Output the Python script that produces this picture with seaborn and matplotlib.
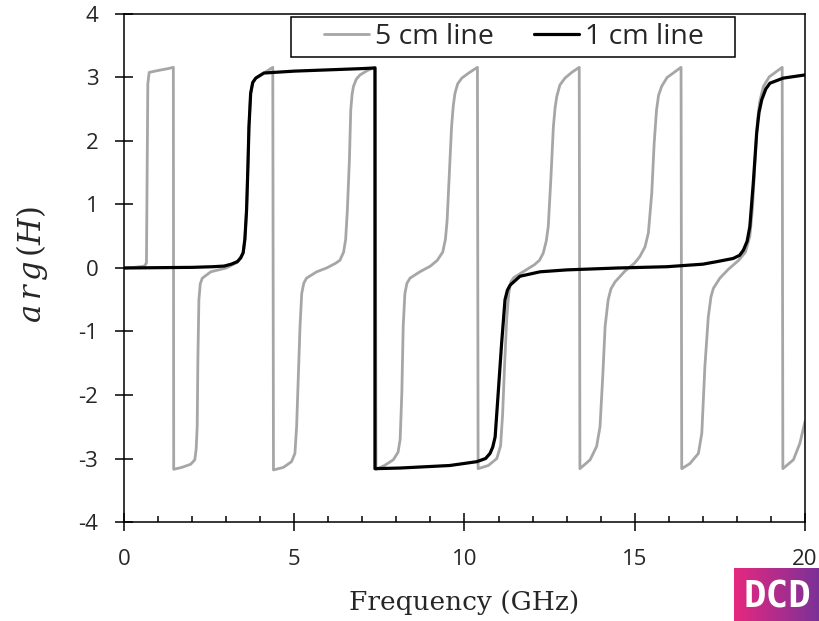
import numpy as np
import pandas as pd
import matplotlib
matplotlib.use("Agg")
import matplotlib.pyplot as plt
import seaborn as sns
from matplotlib.ticker import MultipleLocator
from matplotlib.patches import Rectangle

# Phase of the transfer function, 5 cm line (GHz, rad)
freq_5cm = [
    0.00, 0.30, 0.60, 0.66, 0.68, 0.70, 0.74, 1.00, 1.30, 1.45,
    1.46, 1.70, 1.96, 2.08, 2.12, 2.15, 2.17, 2.20, 2.24, 2.30, 2.55, 3.00,
    3.33, 3.50, 3.55, 3.60, 3.64, 3.67, 3.72, 3.78, 3.87, 4.11, 4.37,
    4.39, 4.68, 4.92, 5.02, 5.07, 5.12, 5.17, 5.22, 5.28, 5.36, 5.66, 5.95,
    6.20, 6.34, 6.45, 6.51, 6.56, 6.62, 6.66, 6.70, 6.74, 6.82, 6.93, 7.15, 7.38,
    7.40, 7.65, 7.91, 8.05, 8.11, 8.16, 8.20, 8.25, 8.31, 8.40, 8.69, 9.00,
    9.20, 9.36, 9.44, 9.49, 9.55, 9.62, 9.67, 9.72, 9.80, 9.92, 10.15, 10.38,
    10.40, 10.70, 10.95, 11.06, 11.12, 11.18, 11.24, 11.30, 11.36, 11.45, 11.75, 12.05,
    12.20, 12.31, 12.40, 12.46, 12.54, 12.61, 12.66, 12.71, 12.80, 12.95, 13.15, 13.37,
    13.39, 13.69, 13.88, 13.98, 14.06, 14.13, 14.22, 14.30, 14.42, 14.71, 15.00,
    15.15, 15.30, 15.40, 15.50, 15.57, 15.64, 15.70, 15.79, 15.95, 16.13, 16.36,
    16.38, 16.62, 16.87, 16.97, 17.06, 17.16, 17.24, 17.31, 17.50, 17.75, 18.05,
    18.25, 18.38, 18.46, 18.53, 18.60, 18.67, 18.78, 18.95, 19.10, 19.33,
    19.35, 19.66, 19.85, 20.00,
]
phase_5cm = [
    0.00, 0.01, 0.03, 0.08, 1.50, 2.90, 3.08, 3.11, 3.14, 3.16,
    -3.17, -3.14, -3.09, -3.02, -2.85, -2.50, -1.45, -0.50, -0.25, -0.16, -0.06, 0.00,
    0.09, 0.24, 0.45, 0.91, 1.60, 2.22, 2.75, 2.92, 2.99, 3.07, 3.16,
    -3.18, -3.14, -3.05, -2.92, -2.50, -1.71, -0.92, -0.40, -0.24, -0.16, -0.06, 0.00,
    0.07, 0.12, 0.25, 0.45, 0.91, 1.70, 2.49, 2.74, 2.86, 2.97, 3.04, 3.11, 3.16,
    -3.17, -3.11, -3.02, -2.90, -2.70, -1.97, -0.92, -0.40, -0.24, -0.16, -0.06, 0.03,
    0.12, 0.25, 0.45, 0.75, 1.44, 2.22, 2.55, 2.75, 2.90, 2.99, 3.08, 3.16,
    -3.16, -3.11, -3.00, -2.80, -2.30, -1.50, -0.80, -0.40, -0.22, -0.15, -0.05, 0.05,
    0.12, 0.23, 0.42, 0.65, 1.44, 2.22, 2.52, 2.70, 2.88, 2.99, 3.08, 3.16,
    -3.16, -3.02, -2.81, -2.50, -1.71, -0.92, -0.50, -0.33, -0.22, -0.05, 0.08,
    0.18, 0.33, 0.55, 1.18, 1.96, 2.49, 2.72, 2.86, 3.00, 3.07, 3.16,
    -3.16, -3.08, -2.92, -2.60, -1.55, -0.77, -0.45, -0.32, -0.16, -0.02, 0.12,
    0.25, 0.50, 0.95, 1.65, 2.30, 2.62, 2.86, 3.01, 3.07, 3.16,
    -3.16, -3.02, -2.76, -2.42,
]

# Phase of the transfer function, 1 cm line (GHz, rad)
freq_1cm = [
    0.00, 1.00, 2.00, 2.60, 2.94, 3.15, 3.33, 3.43, 3.50, 3.55, 3.60, 3.64,
    3.67, 3.72, 3.78, 3.87, 4.11, 5.00, 6.00, 7.00, 7.37,
    7.371, 8.11, 9.57, 10.36, 10.62, 10.75, 10.83, 10.90, 10.99, 11.09, 11.19,
    11.26, 11.34, 11.63, 12.22, 13.00, 14.50, 15.94, 17.00, 17.41, 17.89, 18.08,
    18.19, 18.30, 18.38, 18.48, 18.58, 18.65, 18.73, 18.85, 18.97, 19.36, 20.00,
]
phase_1cm = [
    0.00, 0.005, 0.01, 0.02, 0.03, 0.06, 0.10, 0.16, 0.24, 0.45, 0.91, 1.60,
    2.22, 2.75, 2.92, 2.99, 3.07, 3.10, 3.12, 3.14, 3.15,
    -3.16, -3.15, -3.11, -3.05, -3.00, -2.92, -2.82, -2.66, -1.97, -1.19, -0.50,
    -0.35, -0.27, -0.13, -0.06, -0.03, 0.00, 0.02, 0.06, 0.10, 0.15, 0.20,
    0.28, 0.42, 0.65, 1.33, 2.12, 2.45, 2.65, 2.82, 2.91, 2.99, 3.04,
]

series_names = ["5 cm line", "1 cm line"]
series_colors = ["#a6a6a6", "#000000"]
x_ticks = [0, 5, 10, 15, 20]
y_ticks = [-4, -3, -2, -1, 0, 1, 2, 3, 4]

sns.set_theme(style="white")
plt.rcParams["font.family"] = ["Open Sans", "DejaVu Sans"]
plt.rcParams["mathtext.fontset"] = "dejavuserif"
plt.rcParams["axes.unicode_minus"] = False

fig = plt.figure(figsize=(8.2, 6.21), dpi=100)
ax = fig.add_axes([0.1512, 0.1594, 0.8305, 0.8181])

df5 = pd.DataFrame({"freq": freq_5cm, "phase": phase_5cm})
df1 = pd.DataFrame({"freq": freq_1cm, "phase": phase_1cm})
sns.lineplot(data=df5, x="freq", y="phase", color=series_colors[0], linewidth=2.0,
             estimator=None, sort=False, label=series_names[0], ax=ax)
sns.lineplot(data=df1, x="freq", y="phase", color=series_colors[1], linewidth=2.3,
             estimator=None, sort=False, label=series_names[1], ax=ax)

ax.set_xlim(0, 20)
ax.set_ylim(-4, 4)
ax.set_xticks(x_ticks)
ax.set_yticks(y_ticks)
ax.xaxis.set_minor_locator(MultipleLocator(1))
ax.tick_params(axis="both", which="major", direction="inout", length=13, width=1.1,
               color="black", labelcolor="#262626", labelsize=16,
               bottom=True, left=True, top=False, right=False)
ax.tick_params(axis="x", which="minor", direction="in", length=4, width=1.1,
               color="black", bottom=True, top=False)
ax.tick_params(axis="y", which="major", pad=12)
ax.tick_params(axis="x", which="major", pad=13)
for side in ["left", "right", "top", "bottom"]:
    ax.spines[side].set_visible(True)
    ax.spines[side].set_color("black")
    ax.spines[side].set_linewidth(1.1)

ax.set_xlabel("Frequency (GHz)", family="DejaVu Serif", fontsize=19, color="#262626")
ax.xaxis.set_label_coords(0.5, -0.134)
ax.set_ylabel(r"$a\,r\,g\,(H)$", fontsize=22, color="#262626")
ax.yaxis.set_label_coords(-0.109, 0.506)

# Legend frame drawn as its own box so the entries can sit centred with wide side margins
frame = Rectangle((0.2452, 0.9154), 0.652, 0.0787, transform=ax.transAxes,
                  facecolor="white", edgecolor="black", linewidth=1.1, zorder=4)
ax.add_patch(frame)
leg = ax.legend(loc="center", bbox_to_anchor=(0.5725, 0.9547), ncol=2,
                frameon=False, fontsize=20.5, handlelength=1.6, handletextpad=0.2,
                columnspacing=1.4, borderpad=0.0, borderaxespad=0)
leg.set_zorder(5)
for t in leg.get_texts():
    t.set_color("#262626")

# Small brand badge in the lower right corner
badge = fig.add_axes([734 / 820, 0, 86 / 820, 53 / 621])
grad = np.linspace(0, 1, 256).reshape(1, -1)
cmap = matplotlib.colors.LinearSegmentedColormap.from_list("badge", ["#e6287f", "#7a3198"])
badge.imshow(grad, aspect="auto", cmap=cmap, extent=(0, 1, 0, 1))
badge.text(0.5, 0.45, "DCD", color="white", fontsize=27, fontweight="bold",
           ha="center", va="center", family="DejaVu Sans Mono")
badge.set_xlim(0, 1)
badge.set_ylim(0, 1)
badge.axis("off")

fig.savefig("out.png", dpi=100)
